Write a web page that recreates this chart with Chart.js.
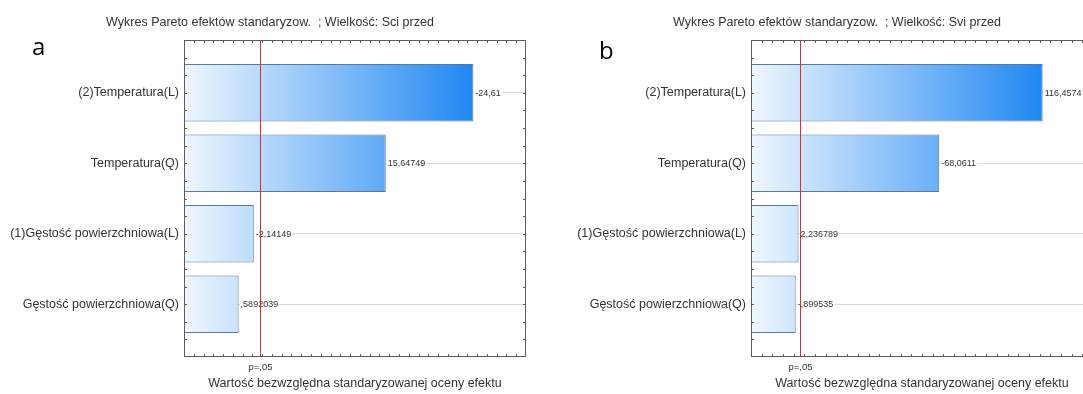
<!DOCTYPE html>
<html>
<head>
<meta charset="utf-8">
<script src="https://cdn.jsdelivr.net/npm/chart.js@4"></script>
<style>
  html, body { margin: 0; padding: 0; background: #fff; overflow: hidden; width: 1083px; height: 394px; }
  .panel { position: absolute; top: 0; width: 540px; height: 394px; }
  #panelA { left: 0; }
  #panelB { left: 567px; }
</style>
</head>
<body>
<div class="panel" id="panelA"><canvas id="chartA" width="540" height="394"></canvas></div>
<div class="panel" id="panelB"><canvas id="chartB" width="540" height="394"></canvas></div>
<script>
// Effects in Pareto order (largest first)
const categories = ['(2)Temperatura(L)', 'Temperatura(Q)', '(1)Gęstość powierzchniowa(L)', 'Gęstość powierzchniowa(Q)'];
const effectsSci = [-24.61, 15.64749, -2.14149, 0.5892039];
const effectsSvi = [116.4574, -68.0611, 2.236789, -0.899535];
const pCritical = 2.776;             // t(0.975; df = 4)
const pLabel = 'p=,05';
const titleSci = 'Wykres Pareto efektów standaryzow.  ; Wielkość: Sci przed';
const titleSvi = 'Wykres Pareto efektów standaryzow.  ; Wielkość: Svi przed';
const xTitle = 'Wartość bezwzględna standaryzowanej oceny efektu';
const xRangeSci = [-5, 30, 1];       // min, max, minor tick step
const xRangeSvi = [-20, 140, 5];

const FONT = '"Liberation Sans", Arial, sans-serif';
const EDGE = 0.75;                   // frame margin around the category band, in category units

// Statistica-style number: decimal comma, no leading zero
function fmt(v) {
  let s = String(Math.abs(v)).replace('.', ',');
  if (s.startsWith('0,')) s = s.slice(1);
  return (v < 0 ? '-' : '') + s;
}

const paretoDecor = {
  id: 'paretoDecor',
  afterDatasetsDraw(chart, args, opts) {
    const { ctx, chartArea: { left, right }, scales: { x, y } } = chart;
    const n = chart.data.labels.length;
    const top = Math.round(y.getPixelForValue(-EDGE));
    const bottom = Math.round(y.getPixelForValue(n - 1 + EDGE));
    ctx.save();

    // value labels next to bar ends
    ctx.font = '9px ' + FONT;
    ctx.textAlign = 'left';
    ctx.textBaseline = 'middle';
    chart.getDatasetMeta(0).data.forEach((bar, i) => {
      const t = fmt(opts.effects[i]);
      const w = ctx.measureText(t).width;
      ctx.fillStyle = '#fff';
      ctx.fillRect(bar.x + 1, bar.y - 4, w + 2, 8);
      ctx.fillStyle = '#333';
      ctx.fillText(t, bar.x + 2, bar.y + 0.5);
    });

    // plot frame
    ctx.strokeStyle = '#5c5c5c';
    ctx.lineWidth = 1;
    ctx.strokeRect(left + 0.5, top + 0.5, right - left - 1, bottom - top - 1);

    // inward minor ticks on all four sides
    const tl = 3;
    ctx.beginPath();
    x.ticks.forEach(t => {
      const px = Math.round(x.getPixelForValue(t.value)) + 0.5;
      if (px <= left + 1 || px >= right - 1) return;
      ctx.moveTo(px, top); ctx.lineTo(px, top + tl);
      ctx.moveTo(px, bottom); ctx.lineTo(px, bottom - tl);
    });
    for (let v = -EDGE + 0.25; v < n - 1 + EDGE - 0.01; v += 0.25) {
      const py = Math.round(y.getPixelForValue(v)) + 0.5;
      ctx.moveTo(left, py); ctx.lineTo(left + tl, py);
      ctx.moveTo(right, py); ctx.lineTo(right - tl, py);
    }
    ctx.stroke();

    // significance threshold
    const lx = Math.round(x.getPixelForValue(opts.threshold)) + 0.5;
    ctx.strokeStyle = '#c93636';
    ctx.beginPath();
    ctx.moveTo(lx, top + 1); ctx.lineTo(lx, bottom - 1);
    ctx.stroke();
    ctx.fillStyle = '#333';
    ctx.font = '9.5px ' + FONT;
    ctx.textAlign = 'center';
    ctx.fillText(opts.thresholdLabel, lx, bottom + 10);

    // panel letter
    ctx.fillStyle = '#000';
    ctx.font = '24px "Open Sans", sans-serif';
    ctx.textAlign = 'left';
    ctx.textBaseline = 'alphabetic';
    ctx.fillText(opts.letter, 32, opts.letterBaseline);
    ctx.restore();
  }
};

function makeChart(canvasId, title, effects, range, letter, letterBaseline) {
  const values = effects.map(Math.abs);
  const maxVal = Math.max(...values);
  return new Chart(document.getElementById(canvasId), {
    type: 'bar',
    data: {
      labels: categories,
      datasets: [{
        data: values,
        base: range[0],
        backgroundColor(c) {
          const ch = c.chart;
          if (!ch.chartArea) return '#8cc3f8';
          const g = ch.ctx.createLinearGradient(ch.chartArea.left, 0, ch.scales.x.getPixelForValue(maxVal), 0);
          g.addColorStop(0, '#f0f7fe');
          g.addColorStop(1, '#1f87f2');
          return g;
        },
        borderColor: '#56799f',
        borderWidth: 1,
        borderSkipped: false,
        barPercentage: 0.815,
        categoryPercentage: 1
      }]
    },
    options: {
      indexAxis: 'y',
      responsive: false,
      animation: false,
      devicePixelRatio: 1,
      layout: { padding: 0 },
      scales: {
        x: {
          type: 'linear',
          min: range[0], max: range[1],
          bounds: 'data',
          ticks: { display: false, stepSize: range[2], maxTicksLimit: 1000 },
          grid: { display: false },
          border: { display: false },
          title: {
            display: true, text: xTitle, color: '#333',
            font: { family: FONT, size: 12.5 },
            padding: { top: 0, bottom: 3 }
          },
          afterFit(s) { s.height = 54.6; }
        },
        y: {
          type: 'category',
          offset: true,
          ticks: {
            autoSkip: false,
            padding: 5,
            color: '#333',
            font: { family: FONT, size: 12.5 }
          },
          grid: { offset: false, drawTicks: false, color: '#d9d9d9' },
          border: { display: false },
          afterFit(s) { s.width = 184; }
        },
        // empty margin to the right of the plot
        margin: {
          type: 'linear',
          position: 'right',
          min: 0, max: 1,
          ticks: { display: false },
          grid: { display: false },
          border: { display: false },
          afterFit(s) { s.width = 14; }
        }
      },
      plugins: {
        legend: { display: false },
        tooltip: { enabled: false },
        title: {
          display: true, text: title, color: '#333',
          font: { family: FONT, size: 12.5, weight: 'normal' },
          padding: { top: 15, bottom: 27.6 }
        },
        paretoDecor: {
          effects, threshold: pCritical, thresholdLabel: pLabel, letter, letterBaseline
        }
      }
    },
    plugins: [paretoDecor]
  });
}

makeChart('chartA', titleSci, effectsSci, xRangeSci, 'a', 55);
makeChart('chartB', titleSvi, effectsSvi, xRangeSvi, 'b', 59);
</script>
</body>
</html>
